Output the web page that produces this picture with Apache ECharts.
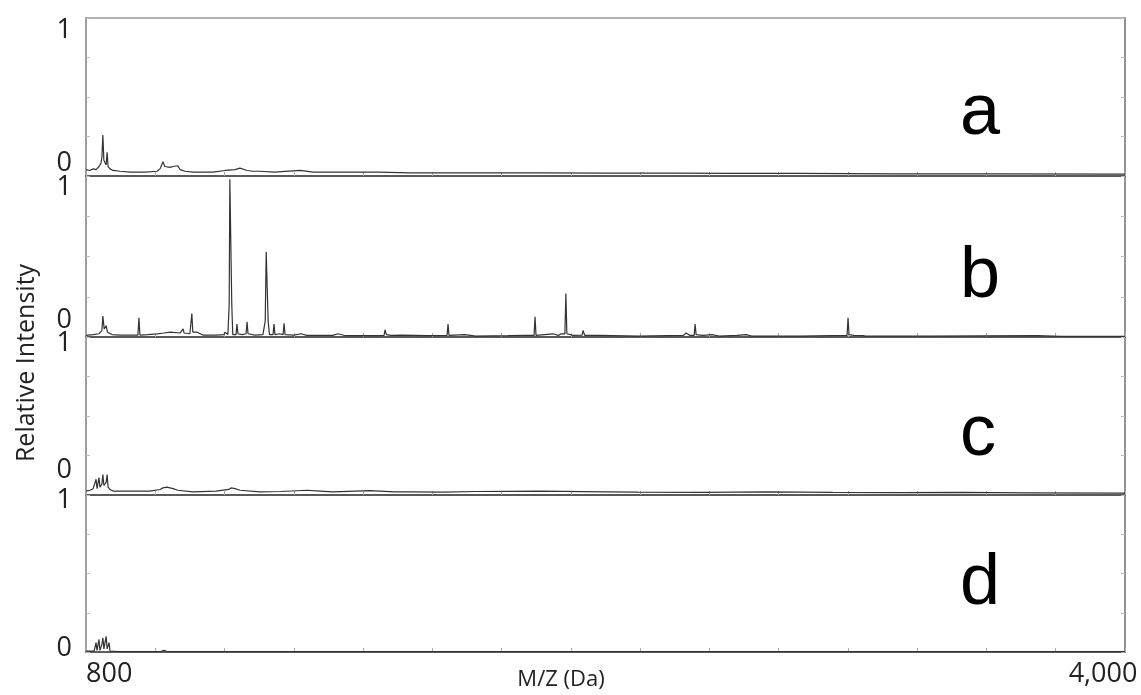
<!DOCTYPE html>
<html>
<head>
<meta charset="utf-8">
<script src="https://cdn.jsdelivr.net/npm/echarts@6/dist/echarts.min.js"></script>
<style>
  html, body { margin: 0; padding: 0; background: #fff; }
  #chart { width: 1141px; height: 695px; }
</style>
</head>
<body>
<div id="chart"></div>
<script>
// m/z range and panel letters
var mzMin = 800, mzMax = 4000
var panelNames = ['a', 'b', 'c', 'd']

// spectrum a  [m/z, relative intensity]
var specA = [
  [800,0.04],[812,0.035],[822,0.045],[831,0.04],[840,0.06],[846,0.08],[849,0.12],[852,0.26],[855,0.1],
  [862,0.07],[865,0.15],[868,0.06],[874,0.045],[883,0.035],[905,0.03],[936,0.025],[982,0.025],[1019,0.03],
  [1028,0.045],[1037,0.09],[1043,0.06],[1049,0.065],[1059,0.055],[1068,0.06],[1074,0.05],[1083,0.065],
  [1090,0.04],[1105,0.03],[1130,0.025],[1191,0.025],[1228,0.035],[1259,0.04],[1274,0.05],[1296,0.035],
  [1314,0.03],[1336,0.03],[1380,0.025],[1459,0.035],[1500,0.025],[1600,0.025],[1700,0.025],[1800,0.02],
  [2000,0.02],[2200,0.02],[2400,0.018],[2600,0.018],[2800,0.016],[3000,0.016],[3300,0.014],[3600,0.014],[4000,0.012]
]

// spectrum b
var specB = [
  [800,0.01],[822,0.015],[840,0.02],[849,0.04],[852,0.13],[856,0.05],[862,0.07],[866,0.03],[880,0.015],
  [905,0.012],[960,0.012],[963,0.12],[966,0.012],[990,0.015],[1019,0.02],[1040,0.025],[1060,0.03],[1090,0.025],
  [1096,0.03],[1099,0.05],[1102,0.025],[1120,0.02],[1123,0.03],[1126,0.145],[1129,0.03],[1142,0.03],[1160,0.012],
  [1200,0.012],[1225,0.015],[1228,0.03],[1237,0.015],[1241,0.2],[1243,0.98],[1246,0.98],[1249,0.2],[1252,0.015],
  [1262,0.015],[1265,0.08],[1268,0.02],[1280,0.015],[1293,0.02],[1296,0.095],[1299,0.02],[1320,0.012],[1345,0.015],
  [1352,0.1],[1355,0.53],[1358,0.53],[1361,0.1],[1365,0.015],[1376,0.015],[1379,0.08],[1382,0.015],[1395,0.02],
  [1407,0.015],[1410,0.085],[1413,0.015],[1440,0.012],[1462,0.02],[1480,0.01],[1560,0.01],[1576,0.02],[1600,0.008],
  [1700,0.008],[1718,0.01],[1721,0.045],[1725,0.015],[1740,0.01],[1773,0.012],[1850,0.008],[1912,0.01],[1915,0.08],[1918,0.01],
  [1967,0.015],[2000,0.006],[2100,0.008],[2152,0.01],[2155,0.02],[2180,0.01],[2183,0.125],[2186,0.01],[2238,0.02],
  [2255,0.01],[2263,0.02],[2275,0.02],[2278,0.27],[2281,0.02],[2300,0.01],[2328,0.012],[2331,0.04],[2336,0.01],[2383,0.01],
  [2500,0.006],[2640,0.01],[2648,0.025],[2660,0.01],[2673,0.01],[2676,0.08],[2679,0.015],[2700,0.01],[2728,0.015],
  [2750,0.006],[2805,0.01],[2833,0.015],[2850,0.006],[3000,0.006],[3144,0.01],[3147,0.12],[3150,0.015],[3165,0.01],
  [3193,0.008],[3196,0.02],[3202,0.005],[3400,0.005],[3732,0.008],[3800,0.004],[4000,0.004]
]

// spectrum c
var specC = [
  [800,0.025],[812,0.03],[822,0.04],[828,0.03],[831,0.1],[834,0.04],[837,0.05],[840,0.11],[843,0.05],[849,0.07],
  [852,0.13],[855,0.06],[862,0.08],[865,0.13],[868,0.05],[874,0.035],[883,0.025],[936,0.025],[997,0.025],[1028,0.035],
  [1037,0.045],[1043,0.04],[1049,0.05],[1059,0.045],[1068,0.04],[1083,0.03],[1130,0.02],[1200,0.025],[1240,0.035],
  [1247,0.045],[1259,0.04],[1274,0.03],[1336,0.02],[1400,0.022],[1481,0.03],[1520,0.025],[1561,0.02],[1675,0.028],
  [1750,0.02],[1807,0.02],[1900,0.018],[2000,0.022],[2200,0.025],[2400,0.02],[2500,0.018],[2700,0.016],[2900,0.02],
  [3100,0.016],[3300,0.015],[3500,0.016],[3700,0.014],[4000,0.012]
]

// spectrum d
var specD = [
  [800,0.005],[825,0.005],[831,0.06],[834,0.01],[840,0.08],[843,0.01],[849,0.05],[852,0.09],[855,0.02],
  [862,0.1],[865,0.02],[871,0.06],[874,0.005],[900,0.003],[1030,0.003],[1040,0.01],[1050,0.003],[4000,0.002]
]

var spectra = [specA, specB, specC, specD]

var chart = echarts.init(document.getElementById('chart'))

var tops = [18, 176, 337, 495]
var heights = [158, 161, 158, 157]
// labels "1"/"0" sit a bit inside each panel (px shift from the tick)
var oneShift = [12, 11, 6, 5]
var zeroShift = [13, 17, 25, 4]
var letterTops = [73, 236, 394, 543]
var font = 'Open Sans'

var grids = [], xAxes = [], yAxes = [], series = [], titles = []

for (var i = 0; i < 4; i++) {
  var last = i === 3
  grids.push({
    left: 86, right: 16, top: tops[i], height: heights[i],
    show: true, borderColor: '#999', borderWidth: 1.5,
    containLabel: false, outerBoundsMode: 'none'
  })
  xAxes.push({
    type: 'value', gridIndex: i, min: mzMin, max: mzMax, interval: (mzMax - mzMin) / 15,
    position: 'bottom',
    axisLine: { show: true, lineStyle: { color: '#444', width: 1.6 } },
    axisTick: { show: true, inside: true, length: 4, lineStyle: { color: '#aaa' } },
    splitLine: { show: false },
    axisLabel: {
      show: last, margin: 9, fontFamily: font, fontSize: 27, color: '#222',
      showMinLabel: true, showMaxLabel: true,
      alignMinLabel: 'left', alignMaxLabel: 'center',
      formatter: function (v) {
        if (Math.abs(v - mzMin) < 1) return '800'
        if (Math.abs(v - mzMax) < 1) return '{r|4,000}'
        return ''
      },
      rich: { r: { fontFamily: font, fontSize: 27, color: '#222', padding: [0, 44, 0, 0] } }
    }
  })
  yAxes.push({
    type: 'value', gridIndex: i, min: 0, max: 1, interval: 0.25, position: 'left',
    axisLine: { show: true, lineStyle: { color: '#999', width: 1.5 } },
    axisTick: { show: true, inside: true, length: 4, lineStyle: { color: '#bbb' } },
    splitLine: { show: false },
    axisLabel: {
      margin: 14, fontFamily: font, fontSize: 27, color: '#222',
      formatter: function (v) {
        if (v === 1) return '{hi|1}'
        if (v === 0) return '{lo|0}'
        return ''
      },
      rich: {
        hi: { fontFamily: font, fontSize: 27, color: '#222', padding: [oneShift[i] * 2, 0, 0, 0] },
        lo: { fontFamily: font, fontSize: 27, color: '#222', padding: [0, 0, zeroShift[i] * 2, 0] }
      }
    }
  })
  yAxes.push({
    type: 'value', gridIndex: i, min: 0, max: 1, interval: 0.25, position: 'right',
    axisLine: { show: true, lineStyle: { color: '#888', width: 1.5 } },
    axisTick: { show: true, inside: true, length: 4, lineStyle: { color: '#bbb' } },
    splitLine: { show: false },
    axisLabel: { show: false }
  })
  series.push({
    type: 'line', xAxisIndex: i, yAxisIndex: i * 2,
    data: spectra[i], showSymbol: false, symbol: 'none',
    lineStyle: { color: '#333', width: 1.2 },
    silent: true
  })
  titles.push({
    text: panelNames[i], left: 955, top: letterTops[i],
    textStyle: { fontFamily: 'Liberation Sans', fontSize: 72, fontWeight: 'normal', color: '#000' }
  })
}

var option = {
  backgroundColor: '#fff',
  animation: false,
  title: titles,
  grid: grids,
  xAxis: xAxes,
  yAxis: yAxes,
  series: series,
  graphic: [{
    type: 'text', x: 27, y: 363, rotation: Math.PI / 2,
    style: {
      text: 'Relative Intensity', align: 'center', verticalAlign: 'middle',
      fontFamily: font, fontSize: 25, fill: '#222'
    }
  }, {
    type: 'text', x: 561, y: 680,
    style: {
      text: 'M/Z (Da)', align: 'center', verticalAlign: 'middle',
      fontFamily: font, fontSize: 22, fill: '#222'
    }
  }]
}

chart.setOption(option)
</script>
</body>
</html>
